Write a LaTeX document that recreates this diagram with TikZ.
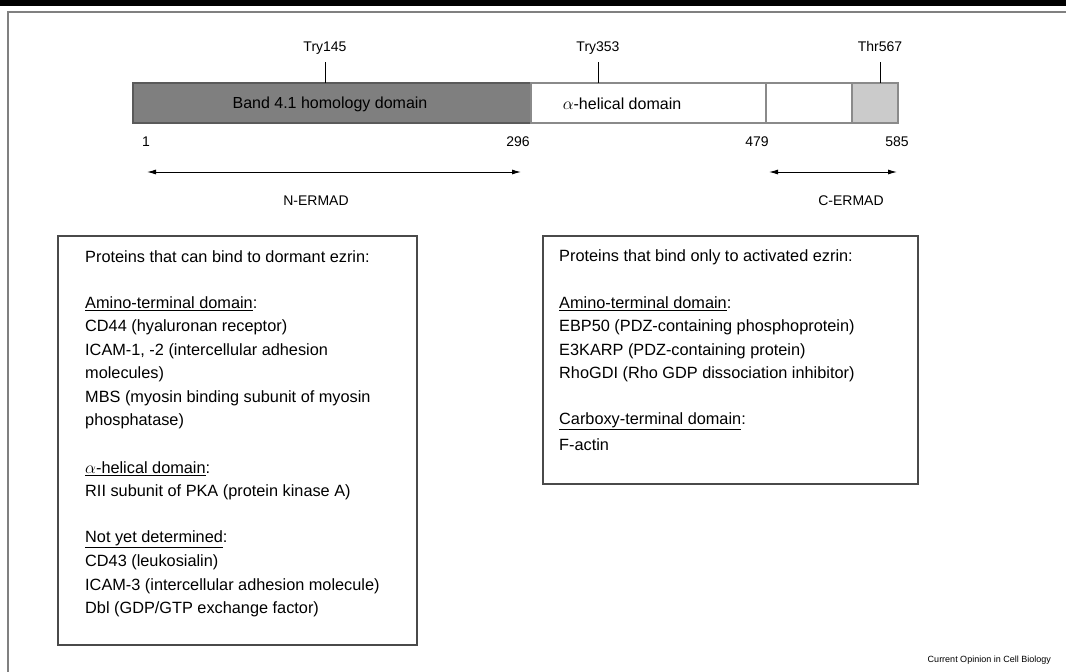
\documentclass[tikz,border=0pt]{standalone}
\usepackage{fontspec}
\setmainfont{Liberation Sans}
\usetikzlibrary{arrows.meta}
\definecolor{framegray}{HTML}{808080}
\definecolor{darkseg}{HTML}{7F7F7F}
\definecolor{darkedge}{HTML}{5A5A5A}
\definecolor{lightseg}{HTML}{CBCBCB}
\definecolor{baredge}{HTML}{8A8A8A}
\definecolor{boxedge}{HTML}{4A4A4A}
\tikzset{
  txt/.style={anchor=west, inner sep=0pt, font=\fontsize{16.3}{18}\selectfont},
  lbl/.style={anchor=base, inner sep=0pt, font=\fontsize{14}{16}\selectfont},
  barlbl/.style={inner sep=0pt, font=\fontsize{16}{18}\selectfont},
  seg/.style={draw=baredge, line width=1.2pt},
  tick/.style={draw=black, line width=0.9pt},
  listbox/.style={draw=boxedge, line width=1.3pt},
  span/.style={line width=1pt, {Latex[length=9pt,width=5pt]}-{Latex[length=9pt,width=5pt]}},
}
\begin{document}
\begin{tikzpicture}[x=1pt,y=-1pt]
\useasboundingbox (0,0) rectangle (1066,672);
% top rule and frame
\fill[black] (0,0) rectangle (1066,6);
\draw[framegray, line width=2pt] (8,672) -- (8,12) -- (1066,12);
% protein bar
\draw[seg, fill=darkseg, draw=darkedge] (133,83) rectangle (531,123);
\draw[seg, fill=white] (531,83) rectangle (766,123);
\draw[seg, fill=white] (766,83) rectangle (852,123);
\draw[seg, fill=lightseg] (852,83) rectangle (898,123);
\node[barlbl] (band) at (330,104) {Band 4.1 homology domain};
\node[barlbl] (helix) at (622,104) {$\alpha$-helical domain};
% ticks
\coordinate (t1b) at (325,83); \coordinate (t1t) at (325,62);
\coordinate (t2b) at (598,83); \coordinate (t2t) at (598,62);
\coordinate (t3b) at (880,83); \coordinate (t3t) at (880,62);
\draw[tick] (t1b) -- (t1t);
\draw[tick] (t2b) -- (t2t);
\draw[tick] (t3b) -- (t3t);
\node[lbl] (try145) at (325,51) {Try145};
\node[lbl] (try353) at (598,51) {Try353};
\node[lbl] (thr567) at (880,51) {Thr567};
% residue numbers
\node[lbl] (n1) at (146,146) {1};
\node[lbl] (n296) at (518,146) {296};
\node[lbl] (n479) at (757,146) {479};
\node[lbl] (n585) at (897,146) {585};
% ERMAD arrows
\coordinate (na) at (147,172); \coordinate (nb) at (521,172);
\coordinate (ca) at (769,172); \coordinate (cb) at (897,172);
\draw[span] (na) -- (nb);
\draw[span] (ca) -- (cb);
\node[lbl] (nermad) at (316,205) {N-ERMAD};
\node[lbl] (cermad) at (851,205) {C-ERMAD};
% left box
\draw[listbox] (58,236) rectangle (417,645);
\node[txt] (l0) at (85,257) {Proteins that can bind to dormant ezrin:};
\node[txt] (l2) at (85,304) {\underline{Amino-terminal domain}:};
\node[txt] (l3) at (85,327.5) {CD44 (hyaluronan receptor)};
\node[txt] (l4) at (85,351) {ICAM-1, -2 (intercellular adhesion};
\node[txt] (l5) at (85,374.5) {molecules)};
\node[txt] (l6) at (85,398) {MBS (myosin binding subunit of myosin};
\node[txt] (l7) at (85,421.5) {phosphatase)};
\node[txt] (l9) at (85,468.5) {\underline{$\alpha$-helical domain}:};
\node[txt] (l10) at (85,492) {RII subunit of PKA (protein kinase A)};
\node[txt] (l12) at (85,539) {\underline{Not yet determined}:};
\node[txt] (l13) at (85,562.5) {CD43 (leukosialin)};
\node[txt] (l14) at (85,586) {ICAM-3 (intercellular adhesion molecule)};
\node[txt] (l15) at (85,609.5) {Dbl (GDP/GTP exchange factor)};
% right box
\draw[listbox] (543,236) rectangle (918,484);
\node[txt] (r0) at (559,257) {Proteins that bind only to activated ezrin:};
\node[txt] (r2) at (559,304) {\underline{Amino-terminal domain}:};
\node[txt] (r3) at (559,327.5) {EBP50 (PDZ-containing phosphoprotein)};
\node[txt] (r4) at (559,351) {E3KARP (PDZ-containing protein)};
\node[txt] (r5) at (559,374.5) {RhoGDI (Rho GDP dissociation inhibitor)};
\node[txt] (r7) at (559,421.5) {\underline{Carboxy-terminal domain}:};
\node[txt] (r8) at (559,445) {F-actin};
% credit
\node[anchor=east, inner sep=0pt, font=\fontsize{9}{11}\selectfont] (credit) at (1051,660) {Current Opinion in Cell Biology};
\end{tikzpicture}
\end{document}
